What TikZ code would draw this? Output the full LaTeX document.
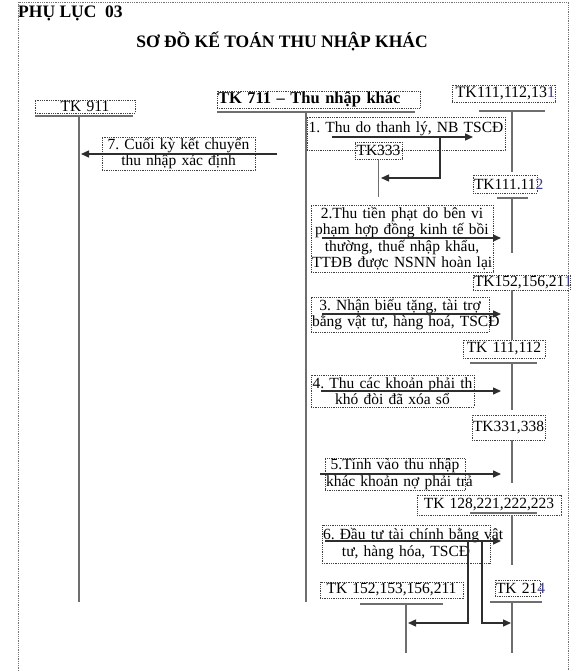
\documentclass[tikz,border=0pt]{standalone}
\usepackage{fontspec}
\setmainfont{Liberation Serif}
\usetikzlibrary{arrows.meta}
\newcommand\fbody{\fontsize{15.5}{16.5}\selectfont}
\definecolor{tcol}{HTML}{6E6E6E}
\definecolor{acol}{HTML}{2E2E2E}
\definecolor{ovf}{HTML}{3A3A8A}
\begin{document}
\begin{tikzpicture}[x=1pt,y=-1pt,
  every node/.append style={execute at begin node={\setlength\parindent{0pt}\frenchspacing}},
  dbox/.style={draw=black!75, line width=0.7pt, dash pattern=on 0.9pt off 0.9pt,
     inner sep=1pt, font=\fbody, align=center},
  tline/.style={draw=tcol, line width=1.8pt},
  arr/.style={draw=acol, line width=1.4pt, -{Triangle[length=8pt,width=7pt]}},
  frame/.style={draw=black!55, line width=0.7pt, dash pattern=on 0.9pt off 0.9pt}]
\useasboundingbox (0,0) rectangle (575,671);
% outer frame
\draw[frame] (18,671) -- (18,2) -- (568,2) -- (568,671);
% titles
\node[anchor=base west, inner sep=0pt, font=\bfseries\fontsize{17.5}{19}\selectfont] (pl) at (18,18) {PHỤ LỤC\ \ 03};
\node[anchor=base, inner sep=0pt, font=\bfseries\fontsize{17.5}{19}\selectfont] (title) at (282,48) {SƠ ĐỒ KẾ TOÁN THU NHẬP KHÁC};
% account header boxes
\node[dbox, minimum width=100pt, minimum height=13pt, text width=98pt] (tk911) at (85,106.5) {TK 911};
\node[dbox, minimum width=203pt, minimum height=15pt, text width=201pt, align=left, font=\bfseries\fontsize{16.5}{17}\selectfont] (tk711) at (318.5,99.5) {TK 711 – Thu nhập khác};
\node[dbox, minimum width=103pt, minimum height=17pt, text width=101pt, align=left, font=\fontsize{16}{17}\selectfont] (tk111a) at (503.5,93.5) {\mbox{\,TK111,112,13\textcolor{ovf}{1}}};
\node[dbox, minimum width=47pt, minimum height=17pt, text width=45pt] (tk333) at (378.5,150.5) {TK333};
\node[dbox, minimum width=64pt, minimum height=18pt, text width=62pt, align=left] (tk111b) at (505,184) {\mbox{TK111.11\textcolor{ovf}{2}}};
\node[dbox, minimum width=97pt, minimum height=15pt, text width=95pt, align=left] (tk152a) at (521.5,282.5) {\mbox{TK152,156,21\textcolor{ovf}{1}}};
\node[dbox, minimum width=82pt, minimum height=18pt, text width=80pt] (tk111c) at (504,349) {TK 111,112};
\node[dbox, minimum width=73pt, minimum height=25pt, text width=71pt] (tk331) at (508.5,427.5) {TK331,338};
\node[dbox, minimum width=144pt, minimum height=20pt, text width=142pt] (tk128) at (489,505) {TK 128,221,222,223};
\node[dbox, minimum width=143pt, minimum height=16pt, text width=141pt] (tk152b) at (391.5,590) {TK 152,153,156,211};
\node[dbox, minimum width=45pt, minimum height=16pt, text width=43pt, align=left] (tk214) at (517.5,588) {\mbox{TK 21\textcolor{ovf}{4}}};
% description boxes
\node[dbox, minimum width=198pt, text width=196pt, text height=15pt, text depth=16pt] (b1) at (406,133.5) {1. Thu do thanh lý, NB TSCĐ};
\node[dbox, minimum width=182pt, minimum height=67pt, text width=180pt] (b2) at (402,238.5) {\mbox{2.Thu tiền phạt do bên vi}\\\mbox{phạm hợp đồng kinh tế bồi}\\\mbox{thường, thuế nhập khẩu,}\\\mbox{TTĐB được NSNN hoàn lại}};
\node[dbox, minimum width=178pt, minimum height=35pt, text width=176pt] (b3) at (400,314.5) {3. Nhận biếu tặng, tài trợ\\\mbox{bằng vật tư, hàng hoá, TSCĐ}};
\node[dbox, minimum width=163pt, minimum height=32pt, text width=161pt] (b4) at (392.5,391) {\mbox{4. Thu các khoản phải th}\\khó đòi đã xóa sổ};
\node[dbox, minimum width=140pt, minimum height=31pt, text width=138pt] (b5) at (395,474.5) {5.Tính vào thu nhập\\\mbox{khác khoản nợ phải trả}};
\node[dbox, minimum width=168pt, minimum height=38pt, text width=166pt] (b6) at (406,544) {\mbox{6. Đầu tư tài chính bằng vật}\\tư, hàng hóa, TSCĐ};
\node[dbox, minimum width=153pt, minimum height=33pt, text width=151pt] (b7) at (178.5,153.5) {7. Cuối kỳ kết chuyển\\thu nhập xác định};
% T-account lines
\draw[tline] (35,116) -- (133,116);
\draw[tline] (79,116) -- (79,602);
\draw[tline] (217,112) -- (415,112);
\draw[tline] (306,112) -- (306,602);
\draw[tline] (479,111) -- (545,111);
\draw[tline] (512,111) -- (512,172);
\draw[tline] (tk333.south) -- ++(0,38);
\draw[tline] (497,198) -- (528,198);
\draw[tline] (512,198) -- (512,253);
\draw[tline] (512,290) -- (512,340);
\draw[tline] (470,363) -- (537,363);
\draw[tline] (512,363) -- (512,410);
\draw[tline] (512,440) -- (512,483);
\draw[tline] (470,513) -- (537,513);
\draw[tline] (512,515) -- (512,565);
\draw[tline] (360,604) -- (443,604);
\draw[tline] (406,604) -- (406,653);
\draw[tline] (490,602) -- (542,602);
\draw[tline] (512,602) -- (512,653);
% arrow end coordinates
\coordinate (a1s) at (332,137); \coordinate (a1e) at (473,137);
\coordinate (a1b) at (440,137); \coordinate (a1c) at (440,178); \coordinate (a1t) at (381,178);
\coordinate (a2s) at (322,238); \coordinate (a2e) at (501,238);
\coordinate (a3s) at (322,314); \coordinate (a3e) at (501,314);
\coordinate (a4s) at (321,391); \coordinate (a4e) at (501,391);
\coordinate (a5s) at (320,474); \coordinate (a5e) at (501,474);
\coordinate (a6s) at (325,541); \coordinate (a6e) at (501,541);
\coordinate (a6l) at (468,541); \coordinate (a6lc) at (468,623); \coordinate (a6lt) at (408,623);
\coordinate (a6r) at (482,541); \coordinate (a6rc) at (482,623); \coordinate (a6rt) at (511,623);
\coordinate (a7s) at (277,154); \coordinate (a7e) at (81,154);
% arrows
\draw[arr] (a1s) -- (a1e);
\draw[arr] (a1b) -- (a1c) -- (a1t);
\draw[arr] (a2s) -- (a2e);
\draw[arr] (a3s) -- (a3e);
\draw[arr] (a4s) -- (a4e);
\draw[arr] (a5s) -- (a5e);
\draw[arr] (a6s) -- (a6e);
\draw[arr] (a6l) -- (a6lc) -- (a6lt);
\draw[arr] (a6r) -- (a6rc) -- (a6rt);
\draw[arr] (a7s) -- (a7e);
\end{tikzpicture}
\end{document}
